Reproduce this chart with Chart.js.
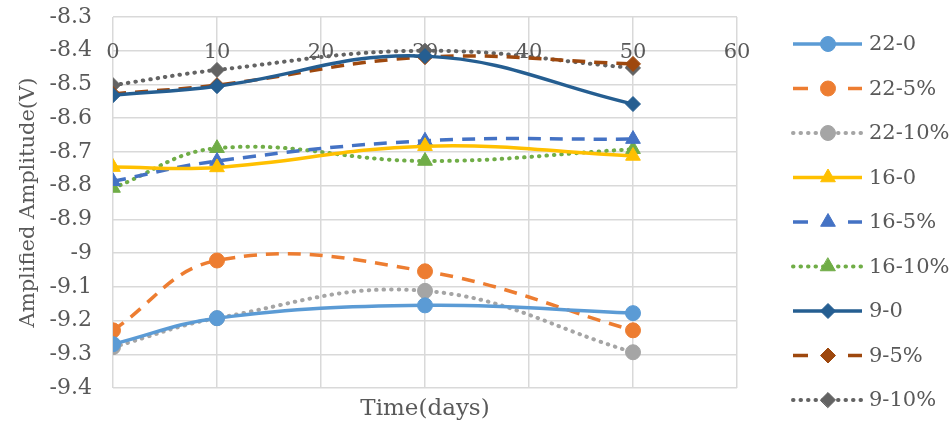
<!DOCTYPE html>
<html>
<head>
<meta charset="utf-8">
<script src="https://cdn.jsdelivr.net/npm/chart.js@4"></script>
<style>
  html, body { margin: 0; padding: 0; background: #fff; }
  #wrap { width: 952px; height: 425px; }
</style>
</head>
<body>
<div id="wrap"><canvas id="chart"></canvas></div>
<script>
// datos
const days = [0, 10, 30, 50];
const xTicks = [0, 10, 20, 30, 40, 50, 60];
const yTicks = [-8.3, -8.4, -8.5, -8.6, -8.7, -8.8, -8.9, -9, -9.1, -9.2, -9.3, -9.4];

const s22_0 = [-9.270, -9.193, -9.155, -9.178];
const s22_5 = [-9.229, -9.022, -9.054, -9.229];
const s22_10 = [-9.279, -9.193, -9.112, -9.294];
const s16_0 = [-8.745, -8.746, -8.683, -8.712];
const s16_5 = [-8.787, -8.727, -8.667, -8.662];
const s16_10 = [-8.807, -8.689, -8.727, -8.692];
const s9_0 = [-8.532, -8.505, -8.416, -8.558];
const s9_5 = [-8.528, -8.502, -8.419, -8.439];
const s9_10 = [-8.502, -8.457, -8.400, -8.451];

const FONT = 'DejaVu Serif';
const TXT = '#595959';
const DASH = [13, 9];
const DOT = [0.5, 7];

function pts(vals) {
    return vals.map(function (v, i) { return { x: days[i], y: v }; });
}

function serie(label, vals, color, dash, marker, size) {
    return {
        label: label,
        data: pts(vals),
        borderColor: color,
        backgroundColor: color,
        pointBackgroundColor: color,
        pointBorderColor: color,
        borderWidth: dash === DOT ? 4 : 3.5,
        borderDash: dash,
        borderCapStyle: dash === DOT ? 'round' : 'butt',
        pointStyle: marker,
        pointRadius: size,
        pointBorderWidth: 1,
        tension: 0.4,
        fill: false
    };
}

const datasets = [
    serie('22-0', s22_0, '#5B9BD5', [], 'circle', 7.5),
    serie('22-5%', s22_5, '#ED7D31', DASH, 'circle', 7.5),
    serie('22-10%', s22_10, '#A5A5A5', DOT, 'circle', 7.5),
    serie('16-0', s16_0, '#FFC000', [], 'triangle', 8.5),
    serie('16-5%', s16_5, '#4472C4', DASH, 'triangle', 8.5),
    serie('16-10%', s16_10, '#70AD47', DOT, 'triangle', 8.5),
    serie('9-0', s9_0, '#255E91', [], 'rectRot', 7.5),
    serie('9-5%', s9_5, '#9E480E', DASH, 'rectRot', 7.5),
    serie('9-10%', s9_10, '#636363', DOT, 'rectRot', 7.5)
];

// etiquetas del eje X dentro del área, bajo el borde superior
const xLabels = {
    id: 'xLabels',
    beforeDatasetsDraw: function (chart) {
        const ctx = chart.ctx;
        const x = chart.scales.x;
        const y = chart.scales.y;
        ctx.save();
        ctx.font = '21px "' + FONT + '"';
        ctx.fillStyle = TXT;
        ctx.textAlign = 'center';
        ctx.textBaseline = 'alphabetic';
        xTicks.forEach(function (t) {
            ctx.fillText(String(t), x.getPixelForValue(t), y.getPixelForValue(-8.4) + 7);
        });
        ctx.restore();
    }
};

// leyenda a la derecha con línea + marcador
const sideLegend = {
    id: 'sideLegend',
    afterDraw: function (chart) {
        const ctx = chart.ctx;
        ctx.save();
        chart.data.datasets.forEach(function (ds, i) {
            const y = 44 + i * 44.5;
            ctx.strokeStyle = ds.borderColor;
            ctx.lineWidth = ds.borderWidth;
            ctx.lineCap = ds.borderCapStyle;
            ctx.setLineDash(ds.borderDash === DASH ? [15, 40] : ds.borderDash);
            ctx.beginPath();
            ctx.moveTo(793, y);
            ctx.lineTo(862, y);
            ctx.stroke();
            ctx.setLineDash([]);
            ctx.fillStyle = ds.pointBackgroundColor;
            ctx.strokeStyle = ds.pointBorderColor;
            ctx.lineWidth = 1;
            Chart.helpers.drawPoint(ctx, {
                pointStyle: ds.pointStyle,
                radius: ds.pointRadius,
                rotation: 0,
                borderWidth: 1
            }, 828, y);
            ctx.font = '21px "' + FONT + '"';
            ctx.fillStyle = TXT;
            ctx.textAlign = 'left';
            ctx.textBaseline = 'middle';
            ctx.fillText(ds.label, 869, y + 1);
        });
        ctx.restore();
    }
};

new Chart(document.getElementById('chart'), {
    type: 'line',
    data: { datasets: datasets },
    plugins: [xLabels, sideLegend],
    options: {
        responsive: true,
        maintainAspectRatio: false,
        animation: false,
        layout: { padding: { left: 0, top: 17, right: 215, bottom: 0 } },
        plugins: {
            legend: { display: false },
            tooltip: { enabled: false }
        },
        scales: {
            x: {
                type: 'linear',
                position: 'bottom',
                min: 0,
                max: 60,
                afterBuildTicks: function (scale) {
                    scale.ticks = xTicks.map(function (v) { return { value: v }; });
                },
                afterFit: function (scale) {
                    scale.height = 37;
                    scale.paddingLeft = 0;
                    scale.paddingRight = 0;
                },
                grid: { color: '#D9D9D9', lineWidth: 1.5, drawTicks: false },
                border: { display: false },
                ticks: { display: false },
                title: {
                    display: true,
                    text: 'Time(days)',
                    color: TXT,
                    font: { family: FONT, size: 23 },
                    padding: { top: 0, bottom: 2 }
                }
            },
            y: {
                min: -9.4,
                max: -8.3,
                afterBuildTicks: function (scale) {
                    scale.ticks = yTicks.map(function (v) { return { value: v }; });
                },
                afterFit: function (scale) {
                    scale.width = 113;
                    scale.paddingTop = 0;
                    scale.paddingBottom = 0;
                },
                grid: { color: '#D9D9D9', lineWidth: 1.5, drawTicks: false },
                border: { display: false },
                ticks: {
                    color: TXT,
                    padding: 21,
                    font: { family: FONT, size: 22 },
                    callback: function (v) { return String(Number(v.toFixed(1))); }
                },
                title: {
                    display: true,
                    text: 'Amplified Amplitude(V)',
                    color: TXT,
                    font: { family: FONT, size: 21 },
                    padding: { top: 16, bottom: 0 }
                }
            }
        }
    }
});
</script>
</body>
</html>
